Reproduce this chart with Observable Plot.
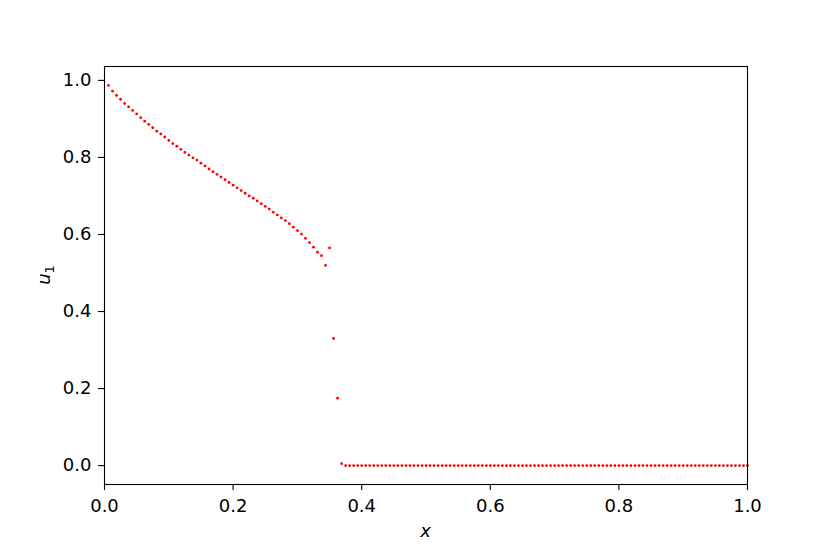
<!DOCTYPE html>
<html>
<head>
<meta charset="utf-8">
<script src="https://cdn.jsdelivr.net/npm/d3@7"></script>
<script src="https://cdn.jsdelivr.net/npm/@observablehq/plot@0.6"></script>
<style>
  html, body { margin: 0; padding: 0; background: #fff; }
  #chart { width: 830px; height: 554px; }
  svg { font-family: "DejaVu Sans", sans-serif; }
</style>
</head>
<body>
<div id="chart"></div>
<script>
// Sampling grid: points at x = i / gridN, i = 1..gridN
const gridN = 160;
// u1 values (in order of the grid)
const u1Front = [
  0.987, 0.972, 0.961, 0.951, 0.940, 0.931, 0.922, 0.913, 0.903, 0.894,
  0.886, 0.877, 0.868, 0.861, 0.853, 0.844, 0.836, 0.829, 0.821, 0.813,
  0.806, 0.799, 0.793, 0.785, 0.778, 0.770, 0.763, 0.756, 0.749, 0.742,
  0.735, 0.728, 0.721, 0.714, 0.707, 0.700, 0.694, 0.687, 0.680, 0.673,
  0.666, 0.658, 0.651, 0.643, 0.636, 0.628, 0.619, 0.610, 0.601, 0.590,
  0.579, 0.567, 0.554, 0.545, 0.520, 0.565, 0.330, 0.175, 0.005
];
const u1Tail = [
  0,0,0,0,0,0,0,0,0,0, 0,0,0,0,0,0,0,0,0,0,
  0,0,0,0,0,0,0,0,0,0, 0,0,0,0,0,0,0,0,0,0,
  0,0,0,0,0,0,0,0,0,0, 0,0,0,0,0,0,0,0,0,0,
  0,0,0,0,0,0,0,0,0,0, 0,0,0,0,0,0,0,0,0,0,
  0,0,0,0,0,0,0,0,0,0, 0,0,0,0,0,0,0,0,0,0,
  0
];
const xTicks = [0.0, 0.2, 0.4, 0.6, 0.8, 1.0];
const yTicks = [0.0, 0.2, 0.4, 0.6, 0.8, 1.0];

const u1 = u1Front.concat(u1Tail);
const data = u1.map((v, i) => ({x: (i + 1) / gridN, u: v}));

const chart = Plot.plot({
  width: 830,
  height: 554,
  marginLeft: 104,
  marginRight: 83,
  marginTop: 66,
  marginBottom: 70,
  style: {fontFamily: "DejaVu Sans, sans-serif", fontSize: "18px", background: "#fff", color: "#000"},
  x: {domain: [0, 1]},
  y: {domain: [-0.049, 1.036]},
  marks: [
    Plot.axisX({ticks: xTicks, tickFormat: d3.format(".1f"), tickSize: 6, tickPadding: 9, fontSize: 18, label: null, stroke: "#000", strokeWidth: 1.1}),
    Plot.axisY({ticks: yTicks, tickFormat: d3.format(".1f"), tickSize: 6, tickPadding: 7, fontSize: 18, label: null, stroke: "#000", strokeWidth: 1.1}),
    Plot.dot(data, {x: "x", y: "u", r: 1.4, fill: "#ff0000", stroke: "none"}),
    Plot.frame({stroke: "#000", strokeWidth: 1.1})
  ]
});

const svg = d3.select(chart);
// x label
svg.append("text")
  .attr("x", 104 + (747 - 104) / 2)
  .attr("y", 537)
  .attr("text-anchor", "middle")
  .attr("font-size", 18)
  .attr("font-style", "italic")
  .attr("font-family", "DejaVu Sans, sans-serif")
  .text("x");
// y label u_1 (rotated)
const yl = svg.append("text")
  .attr("transform", "translate(50,275) rotate(-90)")
  .attr("text-anchor", "middle")
  .attr("font-family", "DejaVu Sans, sans-serif")
  .attr("font-size", 18);
yl.append("tspan").attr("font-style", "italic").text("u");
yl.append("tspan").attr("font-size", 13).attr("dy", 4).text("1");

document.getElementById("chart").appendChild(chart);
</script>
</body>
</html>
